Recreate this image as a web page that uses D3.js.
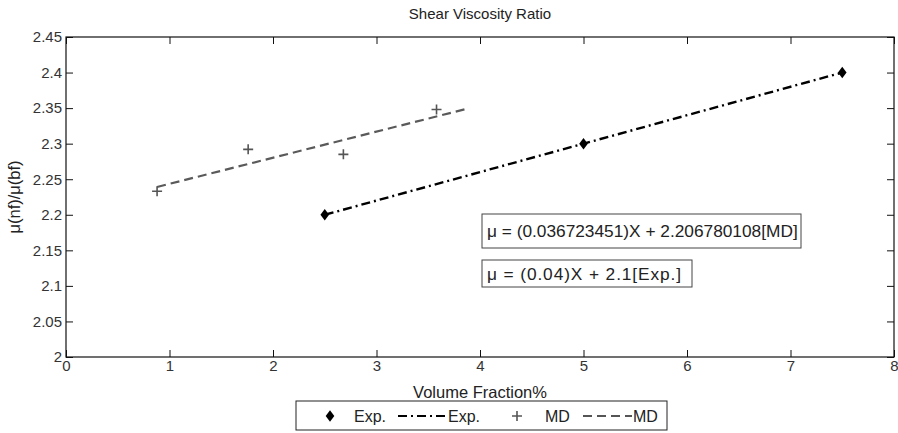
<!DOCTYPE html>
<html>
<head>
<meta charset="utf-8">
<script src="https://cdnjs.cloudflare.com/ajax/libs/d3/7.8.5/d3.min.js"></script>
<style>
  body { margin: 0; background: #fff; }
  svg text { font-family: "Liberation Sans", Arial, sans-serif; fill: #222; }
</style>
</head>
<body>
<svg id="chart" width="898" height="433"></svg>
<script>
// --- Datos ---
const expX = [2.5, 5, 7.5];
const expY = [2.2, 2.3, 2.4];
const mdX = [0.88, 1.76, 2.68, 3.58];
const mdY = [2.233, 2.292, 2.285, 2.348];
const expLineX = [2.5, 7.5];
const mdLineX = [0.88, 3.85];
const expFit = x => 0.04 * x + 2.1;
const mdFit = x => 0.036723451 * x + 2.206780108;
const xTicks = [0, 1, 2, 3, 4, 5, 6, 7, 8];
const yTicks = [2, 2.05, 2.1, 2.15, 2.2, 2.25, 2.3, 2.35, 2.4, 2.45];
const eqTexts = ["\u03bc = (0.036723451)X + 2.206780108[MD]", "\u03bc = (0.04)X + 2.1[Exp.]"];

const svg = d3.select("#chart");
const m = { left: 66, right: 894, top: 37, bottom: 357 };

const x = d3.scaleLinear().domain([0, 8]).range([m.left, m.right]);
const y = d3.scaleLinear().domain([2, 2.45]).range([m.bottom, m.top]);

// --- Ejes (ticks hacia dentro en los cuatro lados) ---
const tick = 7;
svg.append("g").attr("transform", `translate(0,${m.bottom})`)
    .call(d3.axisBottom(x).tickValues(xTicks).tickFormat(d3.format("d")).tickSizeInner(-tick).tickSizeOuter(0).tickPadding(6))
    .call(g => g.selectAll("text").style("font-size", "15px").attr("dy", "0.55em"));
svg.append("g").attr("transform", `translate(0,${m.top})`)
    .call(d3.axisTop(x).tickValues(xTicks).tickSizeInner(-tick).tickSizeOuter(0).tickFormat(""));
svg.append("g").attr("transform", `translate(${m.left},0)`)
    .call(d3.axisLeft(y).tickValues(yTicks).tickFormat(d => d3.format("")(+d.toFixed(2))).tickSizeInner(-tick).tickSizeOuter(0).tickPadding(4))
    .call(g => g.selectAll("text").style("font-size", "15px"));
svg.append("g").attr("transform", `translate(${m.right},0)`)
    .call(d3.axisRight(y).tickValues(yTicks).tickSizeInner(-tick).tickSizeOuter(0).tickFormat(""));
svg.selectAll(".domain").remove();
svg.selectAll(".tick line").attr("stroke", "#111");
svg.selectAll(".tick text").style("fill", "#333");

svg.append("rect")
    .attr("x", m.left).attr("y", m.top)
    .attr("width", m.right - m.left).attr("height", m.bottom - m.top)
    .attr("fill", "none").attr("stroke", "#111").attr("stroke-width", 1.2);

// --- Títulos ---
svg.append("text").attr("x", (m.left + m.right) / 2).attr("y", 19)
    .attr("text-anchor", "middle").style("font-size", "15px").text("Shear Viscosity Ratio");
svg.append("text").attr("x", (m.left + m.right) / 2).attr("y", 398)
    .attr("text-anchor", "middle").style("font-size", "16.5px").text("Volume Fraction%");
svg.append("text").attr("transform", `translate(20,${(m.top + m.bottom) / 2}) rotate(-90)`)
    .attr("text-anchor", "middle").style("font-size", "16.5px").text("\u03bc(nf)/\u03bc(bf)");

// --- Líneas de ajuste ---
const line = d3.line().x(d => x(d[0])).y(d => y(d[1]));
svg.append("path")
    .attr("d", line(mdLineX.map(v => [v, mdFit(v)])))
    .attr("fill", "none").attr("stroke", "#5a5a5a").attr("stroke-width", 2.2)
    .attr("stroke-dasharray", "9,5");
svg.append("path")
    .attr("d", line(expLineX.map(v => [v, expFit(v)])))
    .attr("fill", "none").attr("stroke", "#000").attr("stroke-width", 2.4)
    .attr("stroke-dasharray", "9,4,2,4");

// --- Puntos ---
const diamond = d3.symbol().type(d3.symbolDiamond).size(38);
svg.selectAll(".exp").data(expX.map((v, i) => [v, expY[i]])).enter()
    .append("path").attr("class", "exp")
    .attr("d", diamond)
    .attr("transform", d => `translate(${x(d[0])},${y(d[1])}) scale(1.3,1)`)
    .attr("fill", "#000");

svg.selectAll(".md").data(mdX.map((v, i) => [v, mdY[i]])).enter()
    .append("path").attr("class", "md")
    .attr("d", "M-5,0H5M0,-5V5")
    .attr("transform", d => `translate(${x(d[0])},${y(d[1])})`)
    .attr("stroke", "#555").attr("stroke-width", 1.6).attr("fill", "none");

// --- Cajas de ecuaciones ---
const boxes = [
    { x: 482, y: 214, w: 319, h: 34, ls: 0 },
    { x: 482, y: 260, w: 210, h: 27, ls: 0.9 }
];
boxes.forEach((b, i) => {
    svg.append("rect").attr("x", b.x).attr("y", b.y).attr("width", b.w).attr("height", b.h)
        .attr("fill", "#fff").attr("stroke", "#444").attr("stroke-width", 1);
    svg.append("text").attr("x", b.x + 5).attr("y", b.y + b.h / 2 + 6)
        .style("font-size", "17.3px").style("letter-spacing", b.ls + "px").text(eqTexts[i]);
});

// --- Leyenda ---
const lg = svg.append("g");
lg.append("rect").attr("x", 296).attr("y", 401).attr("width", 371).attr("height", 29)
    .attr("fill", "#fff").attr("stroke", "#222").attr("stroke-width", 1);
const ly = 416;
lg.append("path").attr("d", diamond)
    .attr("transform", `translate(330,${ly}) scale(1.3,1)`).attr("fill", "#000");
lg.append("text").attr("x", 354).attr("y", ly + 5.5).style("font-size", "16px").text("Exp.");
lg.append("line").attr("x1", 398).attr("x2", 447).attr("y1", ly).attr("y2", ly)
    .attr("stroke", "#000").attr("stroke-width", 2).attr("stroke-dasharray", "9,4,2,4");
lg.append("text").attr("x", 448).attr("y", ly + 5.5).style("font-size", "16px").text("Exp.");
lg.append("path").attr("d", "M-5,0H5M0,-5V5")
    .attr("transform", `translate(517,${ly})`).attr("stroke", "#555").attr("stroke-width", 1.6);
lg.append("text").attr("x", 545).attr("y", ly + 5.5).style("font-size", "16px").text("MD");
lg.append("line").attr("x1", 583).attr("x2", 632).attr("y1", ly).attr("y2", ly)
    .attr("stroke", "#555").attr("stroke-width", 2).attr("stroke-dasharray", "9,5");
lg.append("text").attr("x", 633).attr("y", ly + 5.5).style("font-size", "16px").text("MD");
</script>
</body>
</html>
